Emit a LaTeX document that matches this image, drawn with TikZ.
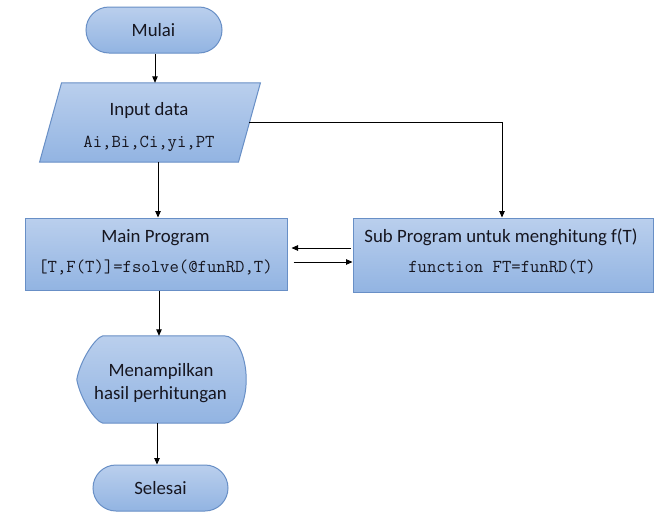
\documentclass[tikz,border=0pt]{standalone}
\usepackage{fontspec}
\setmainfont{Carlito}
\usetikzlibrary{calc,arrows.meta}
\definecolor{boxtop}{RGB}{186,207,237}
\definecolor{boxbot}{RGB}{146,180,226}
\definecolor{boxline}{RGB}{104,143,198}
\definecolor{txtcol}{RGB}{22,22,32}
\tikzset{
  box/.style={draw=boxline, line width=1pt, top color=boxtop, bottom color=boxbot, inner sep=0pt},
  frame/.style={draw=none, inner sep=0pt},
  txt/.style={inner sep=0pt, text=txtcol, font=\fontsize{18.8}{22.6}\selectfont},
  code/.style={inner sep=0pt, text=txtcol, font=\ttfamily\fontsize{18.2}{20}\selectfont},
  arr/.style={draw=black, line width=0.9pt, -{Triangle[length=6.5pt,width=5.5pt]}},
}
\begin{document}
\begin{tikzpicture}[x=1pt,y=-1pt]
\useasboundingbox[fill=white] (0,0) rectangle (660,517);

% Mulai
\node[box, rounded corners=23pt, minimum width=136pt, minimum height=46pt] (mulai) at (154,30) {};
\node[txt, anchor=base] (mulaiT) at (153.5,36) {Mulai};

% Input data (parallelogram)
\node[frame, minimum width=198.5pt, minimum height=79pt] (inp) at (150,122.5) {};
\path[box] ($(inp.north west)+(11,0)$) -- ($(inp.north east)+(11,0)$)
  -- ($(inp.south east)+(-11,0)$) -- ($(inp.south west)+(-11,0)$) -- cycle;
\node[txt, anchor=base] (inpT) at (149,115) {Input data};
\node[code, anchor=base] (inpC) at (149,147.5) {Ai,Bi,Ci,yi,PT};

% Main Program
\node[box, minimum width=262pt, minimum height=72pt] (main) at (156,254) {};
\node[txt, anchor=base] (mainT) at (155.5,242) {Main Program};
\node[code, anchor=base] (mainC) at (155.5,272) {[T,F(T)]=fsolve(@funRD,T)};

% Sub Program
\node[box, minimum width=300pt, minimum height=74pt] (sub) at (503,255) {};
\node[txt, anchor=base] (subT) at (501,242) {Sub Program untuk menghitung f(T)};
\node[code, anchor=base] (subC) at (502,272) {function FT=funRD(T)};

% Display shape
\node[frame, minimum width=169pt, minimum height=87pt] (disp) at (161.5,379.5) {};
\path[box] ($(disp.north west)+(26,0)$) -- ($(disp.north east)+(-22,0)$)
  .. controls ($(disp.north east)+(-9.9,0)$) and ($(disp.east)+(0,-24)$) .. (disp.east)
  .. controls ($(disp.east)+(0,24)$) and ($(disp.south east)+(-9.9,0)$) .. ($(disp.south east)+(-22,0)$)
  -- ($(disp.south west)+(26,0)$)
  .. controls ($(disp.south west)+(18,-2)$) and ($(disp.west)+(3,18)$) .. (disp.west)
  .. controls ($(disp.west)+(3,-18)$) and ($(disp.north west)+(18,2)$) .. ($(disp.north west)+(26,0)$)
  -- cycle;
\node[txt, anchor=base] (dispT1) at (161,376) {Menampilkan};
\node[txt, anchor=base] (dispT2) at (160.5,399) {hasil perhitungan};

% Selesai
\node[box, rounded corners=23pt, minimum width=135pt, minimum height=46pt] (selesai) at (160.5,488) {};
\node[txt, anchor=base] (selesaiT) at (160.5,494) {Selesai};

% Connectors
\draw[arr] ($(mulai.south)+(1,0)$) -- ($(mulai.south |- inp.north)+(1,0)$);
\draw[arr] ($(main.north |- inp.south)+(2,0)$) -- ($(main.north)+(2,0)$);
\draw[arr] (inp.east) -| ($(sub.north)+(-1,0)$);
\draw[arr] ($(sub.west |- main.east)+(-2,-6)$) -- ($(main.east)+(4,-6)$);
\draw[arr] ($(main.east)+(6,8)$) -- ($(sub.west |- main.east)+(0,8)$);
\draw[arr] ($(main.south)+(3,0)$) -- ($(main.south |- disp.north)+(3,0)$);
\draw[arr] ($(selesai.north |- disp.south)+(-3.5,0)$) -- ($(selesai.north)+(-3.5,0)$);
\end{tikzpicture}
\end{document}
